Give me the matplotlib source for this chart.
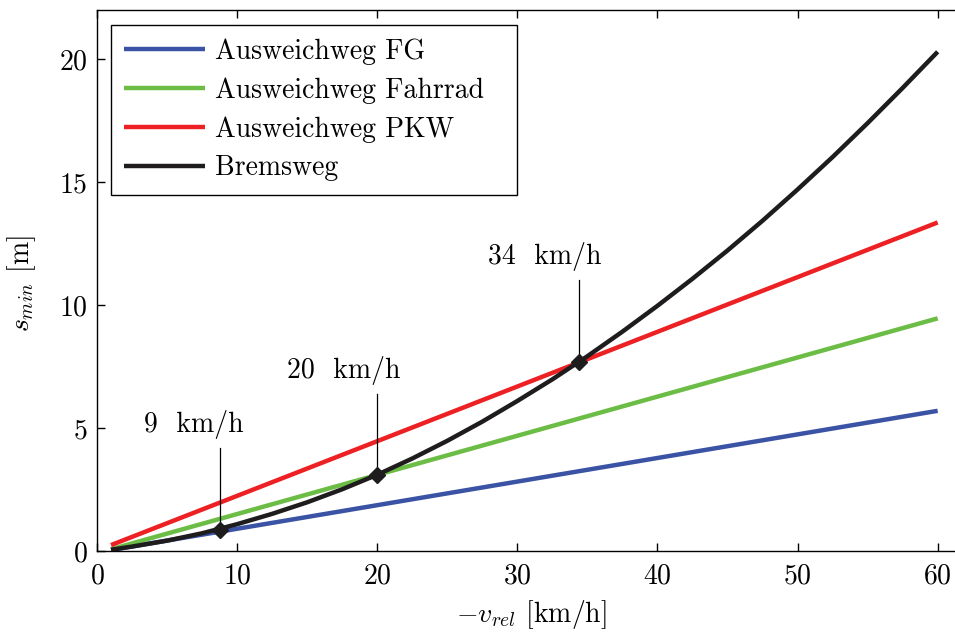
import matplotlib
matplotlib.use("Agg")
import matplotlib.pyplot as plt

plt.rcParams["font.family"] = "serif"
plt.rcParams["font.serif"] = ["cmr10"]
plt.rcParams["mathtext.fontset"] = "cm"
plt.rcParams["axes.formatter.use_mathtext"] = True
plt.rcParams["axes.unicode_minus"] = False

# relative speed [km/h] and minimal distances [m]
v_lin = [1, 60]
s_fg = [0.04, 5.70]
s_fahrrad = [0.07, 9.46]
s_pkw = [0.24, 13.36]

v_brems = [1, 2.5, 5, 7.5, 10, 12.5, 15, 17.5, 20, 22.5, 25, 27.5, 30,
           32.5, 35, 37.5, 40, 42.5, 45, 47.5, 50, 52.5, 55, 57.5, 60]
s_brems = [0.05, 0.18, 0.42, 0.72, 1.09, 1.51, 1.98, 2.51, 3.10, 3.76, 4.48, 5.26, 6.10,
           6.98, 7.92, 8.92, 9.97, 11.07, 12.22, 13.43, 14.70, 16.02, 17.40, 18.83, 20.30]

# crossing points between braking and evasion distance
cross_v = [8.8, 20.0, 34.4]
cross_s = [0.87, 3.10, 7.70]

col_fg = "#3a53a4"
col_fahrrad = "#6cbd45"
col_pkw = "#ed2024"
col_brems = "#1f1c1d"

fs = 20

fig = plt.figure(figsize=(9.55, 6.32), dpi=100)
ax = fig.add_axes([0.1016, 0.1282, 0.9096, 0.856])

lw = 3.2
ax.plot(v_lin, s_fg, color=col_fg, lw=lw, label="Ausweichweg FG", solid_capstyle="butt")
ax.plot(v_lin, s_fahrrad, color=col_fahrrad, lw=lw, label="Ausweichweg Fahrrad", solid_capstyle="butt")
ax.plot(v_lin, s_pkw, color=col_pkw, lw=lw, label="Ausweichweg PKW", solid_capstyle="butt")
ax.plot(v_brems, s_brems, color=col_brems, lw=lw, label="Bremsweg",
        solid_capstyle="butt", solid_joinstyle="round")

for v, s in zip(cross_v, cross_s):
    ax.plot([v, v], [s, s + 3.3], color="black", lw=0.9)
    ax.plot(v, s, marker="D", color=col_brems, ms=8)
    ax.text(v + 1.63, s + 3.95, f"{round(v)}  km/h", ha="right", va="baseline", fontsize=fs)

ax.set_xlim(0, 62)
ax.set_ylim(0, 22)
ax.set_xticks([0, 10, 20, 30, 40, 50, 60])
ax.set_yticks([0, 5, 10, 15, 20])
ax.tick_params(direction="in", length=6, width=1, labelsize=fs, top=True, right=True)
ax.tick_params(axis="y", pad=7)
ax.tick_params(axis="x", pad=9)
for sp in ax.spines.values():
    sp.set_linewidth(1.0)

ax.set_xlabel(r"$-v_{rel}$ [km/h]", fontsize=fs, labelpad=6)
ax.set_ylabel(r"$s_{min}$ [m]", fontsize=fs)
ax.yaxis.set_label_coords(-0.068, 0.4935)

# legend frame stretched a bit past the longest entry
leg = ax.legend(loc="upper left", bbox_to_anchor=(0.016, 0.0, 0.4674, 0.972),
                mode="expand", borderaxespad=0,
                fontsize=fs, handlelength=2.9, handletextpad=0.36, labelspacing=0.445,
                borderpad=0.48, fancybox=False, framealpha=1, edgecolor="black")
leg.get_frame().set_linewidth(1.0)

fig.savefig("out.png", dpi=100)
